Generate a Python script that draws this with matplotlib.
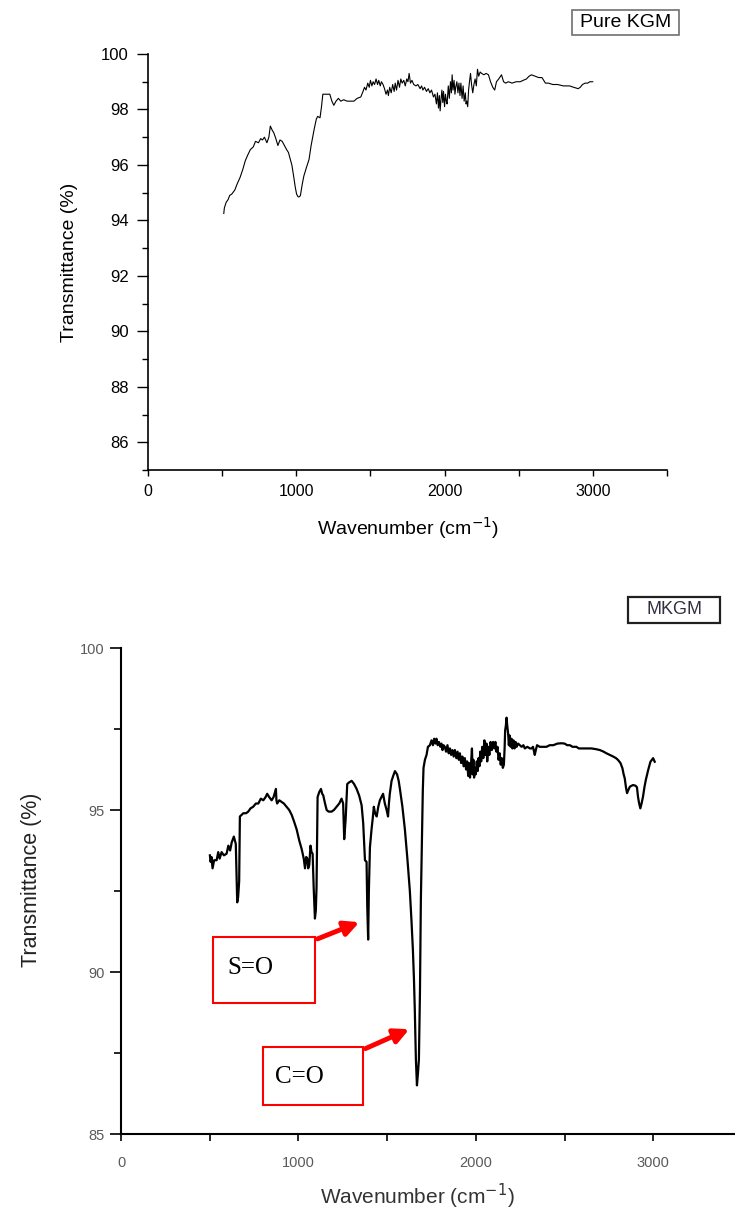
import matplotlib
matplotlib.use("Agg")
import matplotlib.pyplot as plt
from matplotlib.patches import Rectangle
from matplotlib.ticker import MultipleLocator

# Pure KGM spectrum
wn_kgm = [511, 515, 527, 540, 551, 565, 586, 600, 621, 640, 656, 672, 690, 710, 725, 745,
          760, 772, 785, 802, 815, 825, 838, 849, 862, 876, 890, 905, 920, 935, 947, 960,
          970, 982, 993, 1002, 1012, 1020, 1028, 1040, 1051, 1068, 1086, 1100, 1121, 1135,
          1144, 1160, 1170, 1179, 1200, 1226, 1240, 1253, 1268, 1284, 1300, 1320, 1342, 1365,
          1389, 1410, 1435, 1450, 1460, 1470, 1482, 1492, 1500, 1510, 1518, 1528, 1538, 1548,
          1556, 1566, 1574, 1585, 1595, 1605, 1615, 1621, 1630, 1640, 1650, 1660, 1667, 1676,
          1686, 1696, 1705, 1714, 1725, 1735, 1745, 1753, 1761, 1770, 1780, 1792, 1807, 1820,
          1835, 1845, 1854, 1865, 1878, 1890, 1901, 1912, 1925, 1935, 1945, 1952, 1959, 1965,
          1970, 1975, 1982, 1988, 1993, 2000, 2006, 2012, 2017, 2025, 2032, 2040, 2046, 2051,
          2057, 2064, 2070, 2075, 2083, 2090, 2097, 2104, 2110, 2118, 2125, 2132, 2140, 2145,
          2150, 2156, 2162, 2168, 2175, 2182, 2190, 2198, 2206, 2214, 2222, 2230, 2240, 2250,
          2265, 2280, 2296, 2310, 2325, 2338, 2350, 2365, 2384, 2398, 2412, 2430, 2455, 2482,
          2510, 2530, 2552, 2570, 2586, 2610, 2635, 2657, 2680, 2700, 2730, 2762, 2800, 2843,
          2870, 2901, 2915, 2930, 2948, 2965, 2980, 2999]
t_kgm = [94.25, 94.45, 94.65, 94.75, 94.9, 94.95, 95.1, 95.3, 95.55, 95.85, 96.15, 96.35,
         96.55, 96.65, 96.85, 96.8, 96.95, 96.9, 97.0, 96.8, 97.0, 97.4, 97.25, 97.15, 96.95,
         96.7, 96.9, 96.85, 96.7, 96.55, 96.45, 96.2, 96.0, 95.6, 95.2, 94.95, 94.85, 94.85,
         94.9, 95.3, 95.6, 95.9, 96.2, 96.7, 97.3, 97.65, 97.75, 97.7, 98.1, 98.55, 98.55,
         98.55, 98.3, 98.15, 98.3, 98.4, 98.3, 98.35, 98.3, 98.3, 98.3, 98.4, 98.45, 98.65,
         98.8, 98.7, 98.95, 98.8, 99.05, 98.85, 99.0, 98.9, 99.1, 98.9, 99.05, 98.85, 99.0,
         98.9, 98.75, 98.55, 98.7, 98.5, 98.8, 98.6, 98.9, 98.65, 98.95, 98.7, 99.05, 98.8,
         99.1, 98.95, 99.05, 98.85, 99.1, 99.0, 99.3, 98.95, 99.05, 98.9, 98.85, 98.9, 98.75,
         98.85, 98.7, 98.8, 98.65, 98.75, 98.6, 98.7, 98.45, 98.55, 98.2, 98.6, 98.05, 98.5,
         97.95, 98.3, 98.7, 98.25, 98.65, 98.1, 98.55, 98.3, 98.2, 98.85, 98.4, 99.0, 98.6,
         99.25, 98.7, 99.05, 98.55, 98.8, 99.0, 98.6, 98.95, 98.5, 98.95, 98.4, 98.85, 98.3,
         98.6, 98.2, 98.3, 98.1, 98.7, 99.0, 99.3, 98.9, 98.6, 98.9, 99.1, 98.85, 99.45,
         99.2, 99.35, 99.3, 99.25, 99.3, 99.25, 99.0, 98.8, 98.7, 99.0, 99.1, 99.25, 99.0,
         98.95, 99.0, 98.95, 99.0, 99.0, 99.05, 99.1, 99.2, 99.25, 99.2, 99.15, 99.15, 98.95,
         98.95, 98.9, 98.9, 98.85, 98.85, 98.8, 98.75, 98.8, 98.9, 98.95, 98.95, 99.0, 99.0]

# MKGM spectrum
wn_mkgm = [501, 505, 510, 516, 525, 539, 548, 556, 567, 580, 595, 605, 615, 624, 636, 642,
           647, 651, 655, 660, 666, 670, 680, 689, 705, 717, 730, 745, 760, 774, 788, 802,
           815, 824, 835, 849, 860, 873, 876, 880, 892, 905, 918, 933, 948, 962, 975, 990,
           1005, 1018, 1030, 1037, 1044, 1050, 1055, 1061, 1068, 1074, 1080, 1086, 1093, 1098,
           1102, 1108, 1117, 1127, 1134, 1140, 1150, 1159, 1170, 1187, 1200, 1215, 1230, 1243,
           1252, 1258, 1262, 1266, 1275, 1285, 1300, 1314, 1328, 1342, 1356, 1365, 1375, 1384,
           1388, 1393, 1397, 1403, 1412, 1418, 1425, 1432, 1441, 1450, 1459, 1468, 1477, 1487,
           1497, 1505, 1510, 1515, 1525, 1534, 1544, 1556, 1565, 1572, 1586, 1600, 1614, 1628,
           1637, 1645, 1651, 1656, 1662, 1668, 1674, 1679, 1685, 1690, 1696, 1701, 1705, 1713,
           1722, 1730, 1741, 1750, 1758, 1765, 1772, 1778, 1785, 1792, 1800, 1806, 1812, 1818,
           1825, 1832, 1840, 1847, 1854, 1861, 1868, 1875, 1882, 1890, 1897, 1904, 1910, 1917,
           1924, 1931, 1938, 1945, 1951, 1957, 1962, 1967, 1972, 1978, 1982, 1986, 1990, 1994,
           1999, 2005, 2010, 2015, 2020, 2025, 2030, 2036, 2042, 2048, 2054, 2060, 2064, 2070,
           2076, 2083, 2090, 2097, 2104, 2110, 2116, 2122, 2128, 2134, 2140, 2146, 2152, 2158,
           2162, 2165, 2169, 2173, 2177, 2182, 2186, 2190, 2196, 2201, 2206, 2212, 2218, 2224,
           2230, 2238, 2248, 2258, 2268, 2276, 2290, 2305, 2314, 2322, 2332, 2338, 2345, 2360,
           2375, 2398, 2416, 2436, 2460, 2483, 2500, 2515, 2530, 2545, 2567, 2580, 2595, 2620,
           2651, 2675, 2699, 2720, 2736, 2755, 2774, 2790, 2802, 2815, 2826, 2833, 2839, 2846,
           2852, 2858, 2868, 2878, 2886, 2900, 2908, 2914, 2920, 2927, 2934, 2942, 2950, 2958,
           2971, 2984, 2992, 2999, 3008]
t_mkgm = [93.6, 93.4, 93.55, 93.2, 93.45, 93.45, 93.7, 93.5, 93.7, 93.6, 93.65, 93.9, 93.75,
          94.0, 94.18, 94.05, 93.95, 93.0, 92.15, 92.3, 92.8, 94.8, 94.85, 94.9, 94.9, 94.95,
          95.05, 95.1, 95.2, 95.2, 95.35, 95.3, 95.4, 95.5, 95.4, 95.3, 95.4, 95.65, 95.3,
          95.2, 95.3, 95.25, 95.2, 95.1, 95.0, 94.85, 94.65, 94.4, 94.05, 93.8, 93.5, 93.2,
          93.55, 93.5, 93.2, 93.3, 93.9, 93.7, 93.65, 92.6, 91.65, 91.9, 92.6, 95.4, 95.55,
          95.65, 95.5, 95.45, 95.2, 95.0, 94.95, 94.95, 95.0, 95.1, 95.2, 95.35, 95.2, 94.1,
          94.4, 94.7, 95.8, 95.85, 95.9, 95.8, 95.65, 95.45, 95.15, 94.6, 93.45, 93.4, 92.0,
          91.0, 92.5, 93.85, 94.4, 94.7, 95.1, 94.9, 94.8, 95.1, 95.3, 95.4, 95.5, 95.2, 95.0,
          94.8, 95.2, 95.5, 95.9, 96.05, 96.2, 96.1, 95.9, 95.65, 95.1, 94.4, 93.5, 92.5, 91.6,
          90.7, 89.8, 88.8, 87.3, 86.5, 86.9, 87.3, 89.4, 92.2, 94.1, 95.6, 96.3, 96.55, 96.7,
          96.95, 97.0, 97.15, 97.0, 97.2, 97.05, 97.2, 97.0, 97.1, 96.95, 97.05, 96.85, 97.0,
          96.95, 96.8, 97.0, 96.75, 96.9, 96.7, 96.85, 96.65, 96.85, 96.6, 96.8, 96.55, 96.75,
          96.45, 96.65, 96.35, 96.6, 96.25, 96.5, 96.05, 96.45, 96.0, 96.35, 96.9, 96.1, 96.55,
          96.0, 96.3, 96.1, 96.5, 96.2, 96.6, 96.35, 96.8, 96.5, 96.95, 96.6, 97.15, 96.7,
          97.05, 96.5, 96.95, 96.7, 97.1, 96.85, 97.1, 96.9, 97.1, 96.8, 96.95, 96.55, 96.75,
          96.4, 96.6, 96.3, 96.4, 96.9, 97.45, 97.6, 97.85, 97.6, 97.35, 97.0, 97.3, 96.95,
          97.2, 96.9, 97.15, 96.9, 97.1, 96.95, 97.05, 97.0, 96.95, 97.0, 96.9, 96.95, 96.9,
          96.9, 96.95, 96.7, 96.85, 97.0, 96.95, 96.95, 96.95, 97.0, 97.0, 97.05, 97.06, 97.05,
          97.0, 97.0, 96.95, 96.95, 96.9, 96.9, 96.9, 96.9, 96.88, 96.85, 96.8, 96.75, 96.7,
          96.65, 96.6, 96.54, 96.45, 96.29, 96.1, 95.98, 95.7, 95.52, 95.6, 95.72, 95.75,
          95.77, 95.75, 95.7, 95.4, 95.21, 95.05, 95.2, 95.41, 95.7, 95.93, 96.23, 96.49,
          96.55, 96.6, 96.49]

W, H = 735, 1212
fig = plt.figure(figsize=(W / 100, H / 100), dpi=100)
plt.rcParams['font.family'] = ['Liberation Sans', 'DejaVu Sans']


def px_box(x0, y0, x1, y1):
    # pixel box (top-left origin) -> figure fraction [l, b, w, h]
    return [x0 / W, 1 - y1 / H, (x1 - x0) / W, (y1 - y0) / H]


# ---- top panel: Pure KGM ----
ax1 = fig.add_axes(px_box(148, 54, 667, 470))
ax1.plot(wn_kgm, t_kgm, color='black', lw=0.8)
ax1.set_xlim(0, 3500)
ax1.set_ylim(85, 100)
ax1.set_yticks(range(86, 101, 2))
ax1.yaxis.set_minor_locator(MultipleLocator(1))
ax1.set_xticks([0, 1000, 2000, 3000])
ax1.xaxis.set_minor_locator(MultipleLocator(500))
for s in ['top', 'right']:
    ax1.spines[s].set_visible(False)
for s in ['left', 'bottom']:
    ax1.spines[s].set_linewidth(1.2)
ax1.tick_params(axis='y', which='major', length=8, width=1, labelsize=12, pad=6)
ax1.tick_params(axis='y', which='minor', length=4, width=1)
ax1.tick_params(axis='x', which='both', length=4, width=1, labelsize=11.5, pad=6)
ax1.set_ylabel('Transmittance (%)', fontsize=14)
ax1.yaxis.set_label_coords(-0.135, 0.5)
ax1.set_xlabel('Wavenumber (cm$^{-1}$)', fontsize=14)
ax1.xaxis.set_label_coords(0.501, -0.108)

fig.patches.append(Rectangle((572 / W, 1 - 35 / H), 107 / W, 25 / H,
                             transform=fig.transFigure, fill=False,
                             edgecolor='#707070', lw=1.2))
fig.text(625.5 / W, 1 - 22.5 / H, 'Pure KGM', ha='center', va='center', fontsize=14)

# ---- bottom panel: MKGM ----
grey = '#5a5a5a'
ax2 = fig.add_axes(px_box(121, 648, 742, 1134))
ax2.plot(wn_mkgm, t_mkgm, color='black', lw=1.6)
ax2.set_xlim(0, 3500)
ax2.set_ylim(85, 100)
ax2.set_yticks([85, 90, 95, 100])
ax2.yaxis.set_minor_locator(MultipleLocator(2.5))
ax2.set_xticks([0, 1000, 2000, 3000])
ax2.xaxis.set_minor_locator(MultipleLocator(500))
for s in ['top', 'right']:
    ax2.spines[s].set_visible(False)
for s in ['left', 'bottom']:
    ax2.spines[s].set_linewidth(1.5)
ax2.tick_params(axis='y', which='major', length=8, width=1.2, labelsize=10.5,
                labelcolor=grey, pad=4)
ax2.tick_params(axis='y', which='minor', length=5, width=1.2)
ax2.tick_params(axis='x', which='both', length=5, width=1.2, labelsize=10.5,
                labelcolor=grey, pad=11)
ax2.set_ylabel('Transmittance (%)', fontsize=15.5, color='#222222')
ax2.yaxis.set_label_coords(-0.128, 0.523)
ax2.set_xlabel('Wavenumber (cm$^{-1}$)', fontsize=15, color='#333333')
ax2.xaxis.set_label_coords(0.478, -0.098)

fig.patches.append(Rectangle((628 / W, 1 - 623 / H), 92 / W, 26 / H,
                             transform=fig.transFigure, fill=False,
                             edgecolor='#202020', lw=1.6))
fig.text(674 / W, 1 - 610 / H, 'MKGM', ha='center', va='center', fontsize=13,
         color='#303040')

# annotation boxes with red arrows
ax2.add_patch(Rectangle((518, 89.04), 575, 2.04, fill=False, edgecolor='red', lw=1.5))
ax2.text(727, 90.12, 'S=O', fontsize=18, family='Liberation Serif',
         ha='center', va='center')
ax2.annotate('', xy=(1358, 91.57), xytext=(1093, 90.99),
             arrowprops=dict(arrowstyle='-|>', color='red', lw=3.5, mutation_scale=22))

ax2.add_patch(Rectangle((800, 85.9), 563, 1.79, fill=False, edgecolor='red', lw=1.5,
                        clip_on=False))
ax2.text(1008, 86.76, 'C=O', fontsize=18, family='Liberation Serif',
         ha='center', va='center')
ax2.annotate('', xy=(1639, 88.27), xytext=(1363, 87.6),
             arrowprops=dict(arrowstyle='-|>', color='red', lw=3.5, mutation_scale=22))

fig.savefig('out.png', dpi=100)
